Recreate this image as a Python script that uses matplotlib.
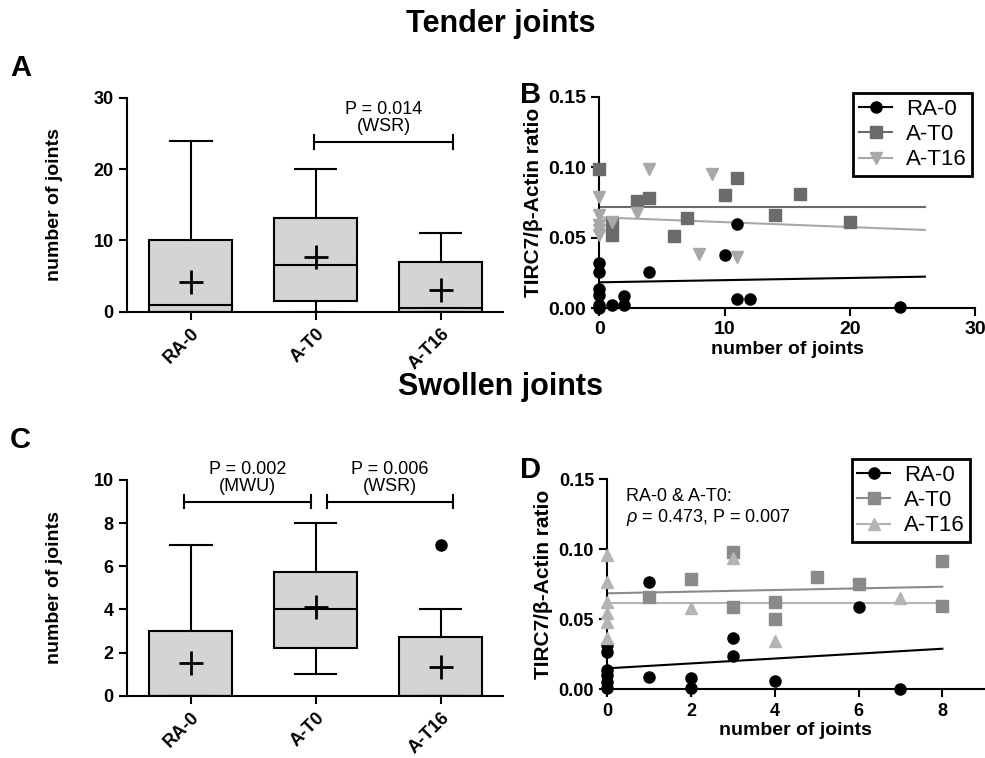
import numpy as np
import matplotlib
matplotlib.use("Agg")
import matplotlib.pyplot as plt
from matplotlib.lines import Line2D

plt.rcParams['font.family'] = ['Liberation Sans', 'DejaVu Sans']
plt.rcParams['mathtext.fontset'] = 'custom'
plt.rcParams['mathtext.it'] = 'Liberation Sans:italic'
plt.rcParams['mathtext.rm'] = 'Liberation Sans'

groups = ['RA-0', 'A-T0', 'A-T16']

# box plot summaries
tender_q1 = [0, 1.5, 0]
tender_med = [1, 6.5, 0.5]
tender_q3 = [10, 13.2, 6.9]
tender_lo = [0, 0, 0]
tender_hi = [24, 20, 11]
tender_mean = [4.2, 7.7, 3.0]

swollen_q1 = [0, 2.23, 0]
swollen_med = [0, 4.0, 0]
swollen_q3 = [3.0, 5.75, 2.74]
swollen_lo = [0, 1, 0]
swollen_hi = [7, 8, 4]
swollen_mean = [1.5, 4.13, 1.32]
swollen_fliers = [[], [], [7]]

# scatter data, tender joints (B)
b_ra_x = [0, 0, 0, 0, 0, 0, 1, 2, 2, 4, 10, 11, 11, 12, 24]
b_ra_y = [0.032, 0.026, 0.014, 0.0095, 0.0025, 0.0, 0.002, 0.0087, 0.002,
          0.026, 0.038, 0.060, 0.0066, 0.0066, 0.0008]
b_t0_x = [0, 1, 1, 3, 4, 6, 7, 10, 11, 14, 16, 20]
b_t0_y = [0.0985, 0.060, 0.052, 0.0763, 0.078, 0.0512, 0.0638, 0.080, 0.092,
          0.066, 0.081, 0.0614]
b_t16_x = [0, 0, 0, 0, 0, 1, 3, 4, 8, 9, 11]
b_t16_y = [0.079, 0.066, 0.059, 0.0555, 0.052, 0.061, 0.0673, 0.0985, 0.0385,
           0.095, 0.0366]
b_fit_x = [0, 26]
b_fit_ra = [0.0184, 0.0224]
b_fit_t0 = [0.072, 0.072]
b_fit_t16 = [0.0645, 0.0555]

# scatter data, swollen joints (D)
d_ra_x = [0, 0, 0, 0, 0, 0, 1, 1, 2, 2, 3, 3, 4, 6, 7]
d_ra_y = [0.0316, 0.0269, 0.0138, 0.0102, 0.0054, 0.0007, 0.0769, 0.009,
          0.0079, 0.0007, 0.0369, 0.0238, 0.006, 0.059, 0.0]
d_t0_x = [1, 2, 3, 3, 4, 4, 5, 6, 8, 8]
d_t0_y = [0.066, 0.0786, 0.0983, 0.059, 0.0624, 0.050, 0.080, 0.0752, 0.092,
          0.0598]
d_t16_x = [0, 0, 0, 0, 0, 0, 2, 3, 4, 7]
d_t16_y = [0.0959, 0.0769, 0.0626, 0.0543, 0.0483, 0.0364, 0.058, 0.0936,
           0.0348, 0.065]
d_fit_x = [0, 8]
d_fit_ra = [0.015, 0.029]
d_fit_t0 = [0.0686, 0.0733]
d_fit_t16 = [0.0619, 0.0619]

LW = 1.5


def style_axes(ax, labelsize):
    for s in ['top', 'right']:
        ax.spines[s].set_visible(False)
    for s in ['left', 'bottom']:
        ax.spines[s].set_linewidth(LW)
    ax.tick_params(width=LW, length=6, labelsize=labelsize)
    for lab in ax.get_xticklabels() + ax.get_yticklabels():
        lab.set_fontweight('bold')


def box_panel(ax, q1, med, q3, lo, hi, mean, fliers, ymax, yticks):
    stats = []
    for i in range(len(groups)):
        stats.append(dict(q1=q1[i], med=med[i], q3=q3[i], whislo=lo[i],
                          whishi=hi[i], mean=mean[i], fliers=fliers[i]))
    ax.bxp(stats, positions=range(len(groups)), widths=0.664,
           patch_artist=True, showmeans=True, manage_ticks=False,
           boxprops=dict(facecolor='#d4d4d4', edgecolor='black', linewidth=LW),
           medianprops=dict(color='black', linewidth=LW),
           whiskerprops=dict(color='black', linewidth=LW),
           capprops=dict(color='black', linewidth=LW),
           meanprops=dict(marker='+', markersize=17, markeredgecolor='black',
                          markeredgewidth=2),
           flierprops=dict(marker='o', markerfacecolor='black',
                           markeredgecolor='black', markersize=8))
    ax.set_xlim(-0.512, 2.5)
    ax.set_ylim(0, ymax)
    ax.set_yticks(yticks)
    ax.set_xticks(range(len(groups)))
    ax.set_xticklabels(groups, rotation=45, ha='right', rotation_mode='anchor')
    ax.set_ylabel('number of joints', fontsize=14, fontweight='bold', labelpad=22)
    style_axes(ax, 13)


def bracket(ax, x0, x1, y, dy, text, ty):
    ax.plot([x0, x1], [y, y], color='black', lw=LW, clip_on=False)
    for x in (x0, x1):
        ax.plot([x, x], [y - dy, y + dy], color='black', lw=LW, clip_on=False)
    ax.text((x0 + x1) / 2, ty, text, ha='center', va='center', fontsize=13,
            linespacing=1.0)


def scatter_panel(ax, series, fit_x, xlim, xticks, labelsize):
    for (x, y, fy, c, m, lab) in series:
        ax.plot(fit_x, fy, color=c, lw=LW, zorder=2)
        ax.plot(x, y, linestyle='none', marker=m, color=c, markersize=8,
                clip_on=False, zorder=3)
    ax.set_xlim(*xlim)
    ax.set_ylim(0, 0.15)
    ax.set_xticks(xticks)
    ax.set_yticks([0, 0.05, 0.10, 0.15])
    ax.set_yticklabels(['0.00', '0.05', '0.10', '0.15'])
    ax.set_xlabel('number of joints', fontsize=14, fontweight='bold', labelpad=2)
    ax.set_ylabel('TIRC7/\u03b2-Actin ratio', fontsize=15, fontweight='bold')
    style_axes(ax, labelsize)
    handles = [Line2D([], [], color=c, marker=m, markersize=8, lw=LW)
               for (_, _, _, c, m, _) in series]
    labels = [s[5] for s in series]
    return handles, labels


def add_legend(handles, labels, anchor):
    leg = fig.legend(handles, labels, loc='upper right', bbox_to_anchor=anchor,
                     fontsize=16, frameon=True, fancybox=False,
                     edgecolor='black', framealpha=1, handlelength=1.5,
                     borderpad=0.25, labelspacing=0.2, handletextpad=0.6,
                     borderaxespad=0)
    leg.get_frame().set_linewidth(2)
    return leg


fig = plt.figure(figsize=(9.85, 7.58), dpi=100)

# A
axA = fig.add_axes([0.1289, 0.5888, 0.3817, 0.2823])
box_panel(axA, tender_q1, tender_med, tender_q3, tender_lo, tender_hi,
          tender_mean, [[], [], []], 30, [0, 10, 20, 30])
bracket(axA, 0.99, 2.1, 23.8, 1.0, 'P = 0.014\n(WSR)', 27.2)

# C
axC = fig.add_axes([0.1289, 0.0822, 0.3817, 0.2846])
box_panel(axC, swollen_q1, swollen_med, swollen_q3, swollen_lo, swollen_hi,
          swollen_mean, swollen_fliers, 10, [0, 2, 4, 6, 8, 10])
bracket(axC, -0.056, 0.96, 9.0, 0.3, 'P = 0.002\n(MWU)', 10.1)
bracket(axC, 1.09, 2.1, 9.0, 0.3, 'P = 0.006\n(WSR)', 10.1)

# B
axB = fig.add_axes([0.6084, 0.5933, 0.3814, 0.2792])
hB, lB = scatter_panel(axB, [
    (b_ra_x, b_ra_y, b_fit_ra, 'black', 'o', 'RA-0'),
    (b_t0_x, b_t0_y, b_fit_t0, '#6b6b6b', 's', 'A-T0'),
    (b_t16_x, b_t16_y, b_fit_t16, '#a8a8a8', 'v', 'A-T16'),
], b_fit_x, (0, 30), [0, 10, 20, 30], 14)
add_legend(hB, lB, (0.9868, 0.8773))

# D
axD = fig.add_axes([0.6165, 0.0906, 0.3827, 0.277])
hD, lD = scatter_panel(axD, [
    (d_ra_x, d_ra_y, d_fit_ra, 'black', 'o', 'RA-0'),
    (d_t0_x, d_t0_y, d_fit_t0, '#8a8a8a', 's', 'A-T0'),
    (d_t16_x, d_t16_y, d_fit_t16, '#b4b4b4', '^', 'A-T16'),
], d_fit_x, (0, 9), [0, 2, 4, 6, 8], 13)
add_legend(hD, lD, (0.9848, 0.3945))
axD.text(0.45, 0.138, 'RA-0 & A-T0:', fontsize=13, va='center')
axD.text(0.45, 0.123, r'$\it{\rho}$ = 0.473, P = 0.007', fontsize=13, va='center')

# titles and panel letters
fig.text(0.508, 0.968, 'Tender joints', ha='center', va='center',
         fontsize=22, fontweight='bold')
fig.text(0.508, 0.490, 'Swollen joints', ha='center', va='center',
         fontsize=22, fontweight='bold')
for lbl, x, y in [('A', 0.010, 0.910), ('B', 0.528, 0.875),
                  ('C', 0.010, 0.420), ('D', 0.528, 0.380)]:
    fig.text(x, y, lbl, fontsize=21, fontweight='bold', va='center')

fig.savefig('out.png', dpi=100)
